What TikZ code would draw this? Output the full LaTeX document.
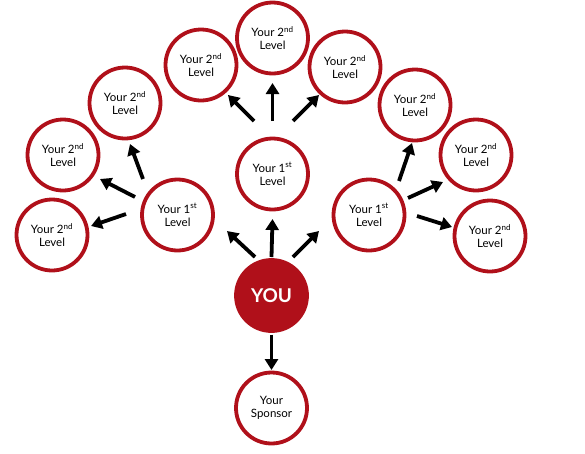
\documentclass[tikz,border=0pt]{standalone}
\usepackage{fontspec}
\setmainfont{Lato}
\usetikzlibrary{arrows.meta}
\definecolor{ring}{RGB}{176,16,26}
\begin{document}
\begin{tikzpicture}[x=1pt,y=-1pt,
  lvl/.style={circle,draw=ring,line width=3.8pt,minimum size=71pt,inner sep=0pt,
    align=center,font=\fontsize{11.5}{13}\selectfont,fill=white},
  younode/.style={circle,draw=ring,fill=ring,line width=3.8pt,minimum size=71pt,
    inner sep=0pt,text=white,font=\fontsize{19}{20}\bfseries},
  arr/.style={line width=3.8pt,-{Triangle[length=11pt,width=13pt]}}]
\useasboundingbox (0,0) rectangle (585,453);
\newcommand{\sndlvl}{Your 2\textsuperscript{nd}\\Level}
\newcommand{\fstlvl}{Your 1\textsuperscript{st}\\Level}
% nodes
\node[younode] (you) at (271.5,295.5) {YOU};
\node[lvl] (sp) at (271.5,408) {Your\\Sponsor};
\node[lvl] (c1) at (272.5,174) {\fstlvl};
\node[lvl] (l1) at (177.5,215) {\fstlvl};
\node[lvl] (r1) at (369,215) {\fstlvl};
\node[lvl] (t0) at (272.5,38) {\sndlvl};
\node[lvl] (tl) at (201,65) {\sndlvl};
\node[lvl] (tr) at (345,67) {\sndlvl};
\node[lvl] (la) at (125,103) {\sndlvl};
\node[lvl] (lb) at (63,155) {\sndlvl};
\node[lvl] (lc) at (52,235) {\sndlvl};
\node[lvl] (ra) at (415,105) {\sndlvl};
\node[lvl] (rb) at (476,155) {\sndlvl};
\node[lvl] (rc) at (490,236) {\sndlvl};
% arrows
\draw[arr] ([shift={(-16.5,-38.5)}]you.center) -- ([shift={(49.5,16)}]l1.center);
\draw[arr] ([shift={(0,-38.5)}]you.center) -- ([shift={(0,45)}]c1.center);
\draw[arr] ([shift={(21.5,-38.5)}]you.center) -- ([shift={(-50,16)}]r1.center);
\draw[arr] ([shift={(-18.5,-53)}]c1.center) -- ([shift={(27,30)}]tl.center);
\draw[arr] ([shift={(0,-53)}]c1.center) -- ([shift={(0,45)}]t0.center);
\draw[arr] ([shift={(20.5,-53)}]c1.center) -- ([shift={(-26,28)}]tr.center);
\draw[arr] ([shift={(-34.5,-36)}]l1.center) -- ([shift={(5,41)}]la.center);
\draw[arr] ([shift={(-42.5,-18)}]l1.center) -- ([shift={(37,24)}]lb.center);
\draw[arr] ([shift={(-51.5,-1)}]l1.center) -- ([shift={(39,-9)}]lc.center);
\draw[arr] ([shift={(30,-34)}]r1.center) -- ([shift={(-3,38)}]ra.center);
\draw[arr] ([shift={(39,-17)}]r1.center) -- ([shift={(-33,27)}]rb.center);
\draw[arr] ([shift={(48,1)}]r1.center) -- ([shift={(-38,-9)}]rc.center);
\draw[arr] ([shift={(0,39)}]you.center) -- ([shift={(0,-38)}]sp.center);
\end{tikzpicture}
\end{document}
